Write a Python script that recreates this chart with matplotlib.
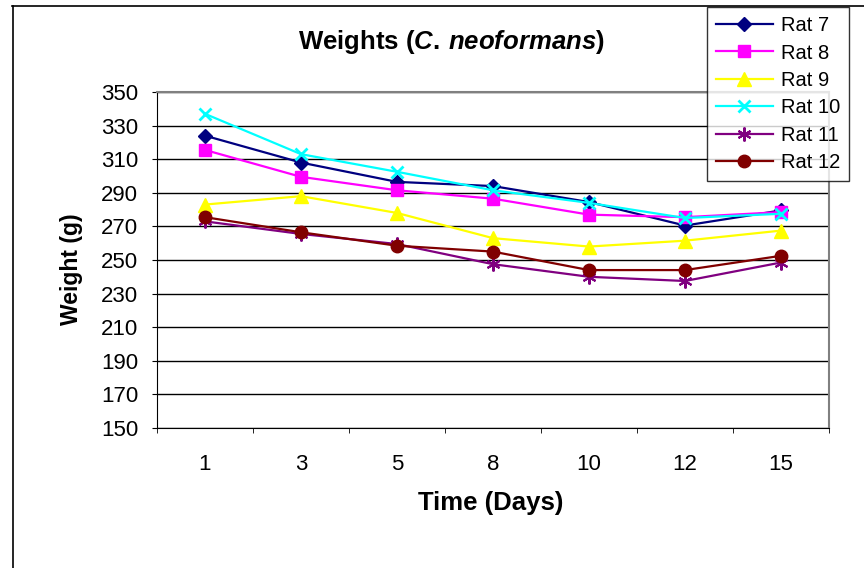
import matplotlib.pyplot as plt
from matplotlib.lines import Line2D

plt.rcParams['font.family'] = ['Liberation Sans', 'DejaVu Sans']
plt.rcParams['mathtext.fontset'] = 'custom'
plt.rcParams['mathtext.it'] = 'Liberation Sans:italic:bold'
plt.rcParams['mathtext.rm'] = 'Liberation Sans:bold'

# data
days = ["1", "3", "5", "8", "10", "12", "15"]
rat7 = [324, 308, 296.5, 294, 284.5, 270.5, 279.5]
rat8 = [315.5, 299.5, 291.5, 286.5, 277, 275.5, 278.5]
rat9 = [283, 288, 278, 263, 258, 261.5, 267.5]
rat10 = [337, 313, 302.5, 291.5, 284, 275, 277.5]
rat11 = [273, 265.5, 259.5, 247.5, 240, 237.5, 248.5]
rat12 = [275.5, 266.5, 258.5, 255, 244, 244, 252.5]
labels = ["Rat 7", "Rat 8", "Rat 9", "Rat 10", "Rat 11", "Rat 12"]

fig = plt.figure(figsize=(8.64, 5.68), dpi=100)
ax = fig.add_axes([157/864, 1 - 428/568, (829 - 157)/864, (428 - 92)/568])

x = range(len(days))
styles = [
    (rat7, '#000080', 'D', 7, {}),
    (rat8, '#FF00FF', 's', 8, {}),
    (rat9, '#FFFF00', '^', 9.5, {}),
    (rat10, '#00FFFF', 'x', 9, {'markeredgewidth': 2}),
    (rat11, '#800080', (6, 2, 0), 10, {'markeredgewidth': 1.5}),
    (rat12, '#800000', 'o', 9, {}),
]
for (vals, col, mk, ms, extra), lab in zip(styles, labels):
    ax.plot(x, vals, color=col, marker=mk, markersize=ms, lw=1.6,
            markerfacecolor=col, markeredgecolor=col, label=lab, **extra)

ax.set_ylim(150, 350)
ax.set_xlim(-0.5, len(days) - 0.5)
ax.set_yticks(range(150, 351, 20))
ax.yaxis.grid(True, color='black', lw=1)
ax.set_axisbelow(True)
ax.set_xticks(list(x))
ax.set_xticklabels(days)
ax.tick_params(axis='x', length=0, pad=19, labelsize=16)
ax.set_xticks([i - 0.5 for i in range(len(days) + 1)], minor=True)
ax.tick_params(axis='x', which='minor', length=3.6, direction='out')
ax.tick_params(axis='y', length=3.6, direction='out', pad=10, labelsize=16)
ax.spines['top'].set_color('#808080')
ax.spines['right'].set_color('#808080')
ax.spines['top'].set_linewidth(1.5)
ax.spines['right'].set_linewidth(1.5)

ax.set_xlabel("Time (Days)", fontsize=18.5, fontweight='bold', va='center')
ax.xaxis.set_label_coords(0.497, -0.223)
ax.set_ylabel("Weight (g)", fontsize=16.5, fontweight='bold', va='center')
ax.yaxis.set_label_coords(-0.1265, 0.473)

fig.text(451/864, 1 - 42/568, r"Weights ($\mathit{C.\,neoformans}$)",
         fontsize=18.5, fontweight='bold', ha='center', va='center')

# outer chart border (left and top only visible)
fig.add_artist(Line2D([12.5/864, 12.5/864], [0, 1 - 6/568], color='black', lw=1.2,
                      transform=fig.transFigure))
fig.add_artist(Line2D([12/864, 1], [1 - 6/568, 1 - 6/568], color='black', lw=1.2,
                      transform=fig.transFigure))

leg = fig.legend(loc='upper right', bbox_to_anchor=(849/864, 1 - 7/568),
                 fontsize=14.5, frameon=True, fancybox=False, handlelength=2.8,
                 labelspacing=0.42, borderpad=0.45, handletextpad=0.4,
                 borderaxespad=0)
leg.get_frame().set_edgecolor('black')
leg.get_frame().set_linewidth(1)
leg.set_zorder(10)

fig.savefig("out.png", dpi=100)
